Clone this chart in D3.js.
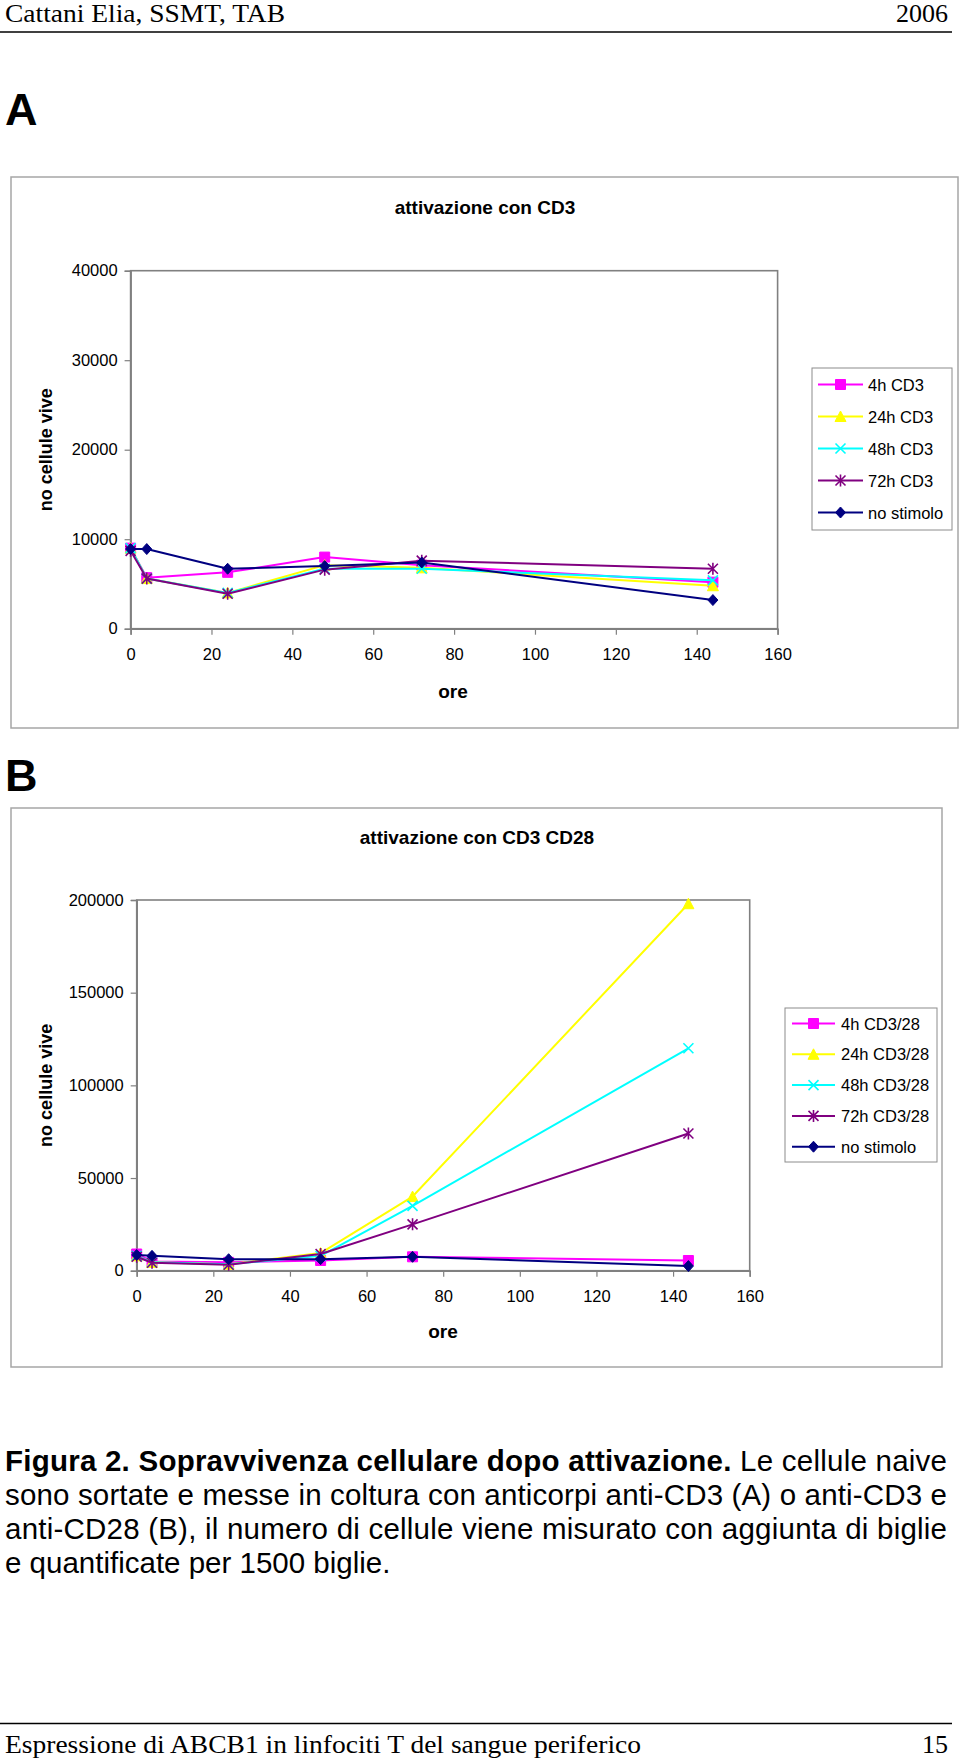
<!DOCTYPE html>
<html>
<head>
<meta charset="utf-8">
<script src="https://cdn.jsdelivr.net/npm/d3@7"></script>
<style>
  html, body { margin: 0; padding: 0; background: #fff; }
  svg { display: block; }
  text { font-family: "Liberation Sans", Arial, sans-serif; }
  .serif { font-family: "Liberation Serif", "Times New Roman", serif; }
</style>
</head>
<body>
<svg id="page" width="960" height="1758"></svg>
<script>
// ---------------- DATA ----------------
const hours = [0, 4, 24, 48, 72, 144];

// Panel A: attivazione con CD3
const seriesNamesA = ["4h CD3", "24h CD3", "48h CD3", "72h CD3", "no stimolo"];
const a_4h      = [9000, 5700, 6300, 8000, 7100, 5200];
const a_24h     = [9000, 5600, 4000, 7100, 6800, 4800];
const a_48h     = [9000, 5600, 4000, 6700, 6700, 5400];
const a_72h     = [8700, 5600, 3900, 6600, 7600, 6700];
const a_noStim  = [8900, 8900, 6700, 7000, 7400, 3200];

// Panel B: attivazione con CD3 CD28
const seriesNamesB = ["4h CD3/28", "24h CD3/28", "48h CD3/28", "72h CD3/28", "no stimolo"];
const b_4h      = [9000, 5000, 4500, 5500, 7500, 5500];
const b_24h     = [8000, 4500, 3500, 9500, 40000, 198000];
const b_48h     = [8000, 4500, 3500, 8000, 35000, 120000];
const b_72h     = [7500, 4300, 3200, 9000, 25000, 74000];
const b_noStim  = [8500, 8000, 6200, 6200, 7500, 2500];

const xTicks  = [0, 20, 40, 60, 80, 100, 120, 140, 160];
const yTicksA = [0, 10000, 20000, 30000, 40000];
const yTicksB = [0, 50000, 100000, 150000, 200000];

const seriesColors  = ["#FF00FF", "#FFFF00", "#00FFFF", "#800080", "#000080"];
const seriesMarkers = ["square", "triangle", "x", "star", "diamond"];

const titleA = "attivazione con CD3";
const titleB = "attivazione con CD3 CD28";
const yLabel = "no cellule vive";
const xLabel = "ore";

// ---------------- DRAW ----------------
const svg = d3.select("#page");

function markerPath(type, s) {
  const h = s / 2;
  switch (type) {
    case "square":   return `M${-h},${-h}H${h}V${h}H${-h}Z`;
    case "triangle": return `M0,${-h-0.5}L${h+0.5},${h}L${-h-0.5},${h}Z`;
    case "diamond":  return `M0,${-h-0.5}L${h},0L0,${h+0.5}L${-h},0Z`;
    case "x":        return `M${-h},${-h}L${h},${h}M${-h},${h}L${h},${-h}`;
    case "star":     return `M${-h},${-h}L${h},${h}M${-h},${h}L${h},${-h}M0,${-h-1}V${h+1}`;
  }
}
function drawMarker(g, type, color, x, y) {
  const filled = (type === "square" || type === "triangle" || type === "diamond");
  g.append("path")
    .attr("transform", `translate(${x},${y})`)
    .attr("d", markerPath(type, 10))
    .attr("fill", filled ? color : "none")
    .attr("stroke", color)
    .attr("stroke-width", filled ? 1 : 1.6);
}

function drawChart(cfg) {
  const g = svg.append("g");
  // outer chart box
  g.append("rect")
    .attr("x", cfg.box[0]).attr("y", cfg.box[1])
    .attr("width", cfg.box[2] - cfg.box[0]).attr("height", cfg.box[3] - cfg.box[1])
    .attr("fill", "#fff").attr("stroke", "#a6a6a6").attr("stroke-width", 1.5);

  const x = d3.scaleLinear().domain([0, 160]).range([cfg.plot[0], cfg.plot[2]]);
  const y = d3.scaleLinear().domain([0, cfg.yMax]).range([cfg.plot[3], cfg.plot[1]]);

  // plot border
  g.append("rect")
    .attr("x", cfg.plot[0]).attr("y", cfg.plot[1])
    .attr("width", cfg.plot[2] - cfg.plot[0]).attr("height", cfg.plot[3] - cfg.plot[1])
    .attr("fill", "none").attr("stroke", "#808080").attr("stroke-width", 1.6);

  // axes
  const yAxis = g.append("g").attr("transform", `translate(${cfg.plot[0]},0)`)
    .call(d3.axisLeft(y).tickValues(cfg.yTicks).tickSize(6).tickPadding(7).tickFormat(d3.format("d")));
  const xAxis = g.append("g").attr("transform", `translate(0,${cfg.plot[3]})`)
    .call(d3.axisBottom(x).tickValues(xTicks).tickSize(6).tickPadding(14).tickFormat(d3.format("d")));
  [yAxis, xAxis].forEach(ax => {
    ax.select(".domain").attr("stroke", "#808080").attr("stroke-width", 1.6);
    ax.selectAll(".tick line").attr("stroke", "#808080").attr("stroke-width", 1.2);
    ax.selectAll(".tick text").attr("fill", "#000")
      .style("font-family", "'Liberation Sans', Arial, sans-serif").style("font-size", "16.5px");
  });

  // title
  g.append("text").attr("x", cfg.title[0]).attr("y", cfg.title[1])
    .attr("text-anchor", "middle").attr("dominant-baseline", "central")
    .style("font-size", "19px").style("font-weight", "bold").text(cfg.titleText);
  // axis labels
  g.append("text").attr("x", cfg.xLab[0]).attr("y", cfg.xLab[1])
    .attr("text-anchor", "middle").attr("dominant-baseline", "central")
    .style("font-size", "19px").style("font-weight", "bold").text(xLabel);
  g.append("text")
    .attr("transform", `translate(${cfg.yLab[0]},${(cfg.plot[1] + cfg.plot[3]) / 2}) rotate(-90)`)
    .attr("text-anchor", "middle").attr("dominant-baseline", "central")
    .style("font-size", "18px").style("font-weight", "bold").text(yLabel);

  // series
  const line = d3.line().x((d, i) => x(hours[i])).y(d => y(d));
  cfg.series.forEach((vals, si) => {
    g.append("path").attr("d", line(vals)).attr("fill", "none")
      .attr("stroke", seriesColors[si]).attr("stroke-width", 2).attr("stroke-linejoin", "round");
    vals.forEach((v, i) => drawMarker(g, seriesMarkers[si], seriesColors[si], x(hours[i]), y(v)));
  });

  // legend
  const L = cfg.legend;
  g.append("rect").attr("x", L.box[0]).attr("y", L.box[1])
    .attr("width", L.box[2] - L.box[0]).attr("height", L.box[3] - L.box[1])
    .attr("fill", "#fff").attr("stroke", "#8c8c8c").attr("stroke-width", 1);
  cfg.names.forEach((name, i) => {
    const yy = L.y0 + i * L.dy;
    g.append("line").attr("x1", L.lx0).attr("x2", L.lx1).attr("y1", yy).attr("y2", yy)
      .attr("stroke", seriesColors[i]).attr("stroke-width", 2);
    drawMarker(g, seriesMarkers[i], seriesColors[i], (L.lx0 + L.lx1) / 2, yy);
    g.append("text").attr("x", L.tx).attr("y", yy).attr("dominant-baseline", "central")
      .style("font-size", "16.5px").text(name);
  });
}

// header
svg.append("text").attr("class", "serif").attr("x", 5).attr("y", 22)
  .attr("textLength", 280).attr("lengthAdjust", "spacingAndGlyphs")
  .style("font-size", "26px").text("Cattani Elia, SSMT, TAB");
svg.append("text").attr("class", "serif").attr("x", 948).attr("y", 22).attr("text-anchor", "end")
  .style("font-size", "26px").text("2006");
svg.append("line").attr("x1", 0).attr("x2", 952).attr("y1", 32).attr("y2", 32)
  .attr("stroke", "#000").attr("stroke-width", 1.5);

// panel letters
svg.append("text").attr("x", 5).attr("y", 125).style("font-size", "45px").style("font-weight", "bold").text("A");
svg.append("text").attr("x", 5).attr("y", 791).style("font-size", "45px").style("font-weight", "bold").text("B");

drawChart({
  box: [11, 177, 958, 728],
  plot: [130.6, 270.7, 777.6, 628.7],
  yMax: 40000, yTicks: yTicksA,
  title: [485, 207], titleText: titleA,
  xLab: [453, 691], yLab: [46],
  series: [a_4h, a_24h, a_48h, a_72h, a_noStim],
  names: seriesNamesA,
  legend: { box: [812, 368, 952, 530], y0: 384.5, dy: 32, lx0: 818, lx1: 863, tx: 868 }
});

drawChart({
  box: [11, 808, 942, 1367],
  plot: [136.7, 900, 749.7, 1270.7],
  yMax: 200000, yTicks: yTicksB,
  title: [477, 837.5], titleText: titleB,
  xLab: [443, 1331], yLab: [46],
  series: [b_4h, b_24h, b_48h, b_72h, b_noStim],
  names: seriesNamesB,
  legend: { box: [785, 1008, 937, 1162], y0: 1023.5, dy: 30.8, lx0: 792, lx1: 835, tx: 841 }
});

// caption
const cap = svg.append("g").style("font-size", "29.5px");
const l1 = cap.append("text").attr("x", 5).attr("y", 1471)
  .attr("textLength", 942).attr("lengthAdjust", "spacing");
l1.append("tspan").style("font-weight", "bold").text("Figura 2. Sopravvivenza cellulare dopo attivazione.");
l1.append("tspan").text(" Le cellule naive");
cap.append("text").attr("x", 5).attr("y", 1505).attr("textLength", 942).attr("lengthAdjust", "spacing")
  .text("sono sortate e messe in coltura con anticorpi anti-CD3 (A) o anti-CD3 e");
cap.append("text").attr("x", 5).attr("y", 1539).attr("textLength", 942).attr("lengthAdjust", "spacing")
  .text("anti-CD28 (B), il numero di cellule viene misurato con aggiunta di biglie");
cap.append("text").attr("x", 5).attr("y", 1573)
  .text("e quantificate per 1500 biglie.");

// footer
svg.append("line").attr("x1", 0).attr("x2", 952).attr("y1", 1723.5).attr("y2", 1723.5)
  .attr("stroke", "#000").attr("stroke-width", 1.5);
svg.append("text").attr("class", "serif").attr("x", 5).attr("y", 1753)
  .attr("textLength", 636).attr("lengthAdjust", "spacingAndGlyphs")
  .style("font-size", "26px").text("Espressione di ABCB1 in linfociti T del sangue periferico");
svg.append("text").attr("class", "serif").attr("x", 948).attr("y", 1753).attr("text-anchor", "end")
  .style("font-size", "26px").text("15");
</script>
</body>
</html>
